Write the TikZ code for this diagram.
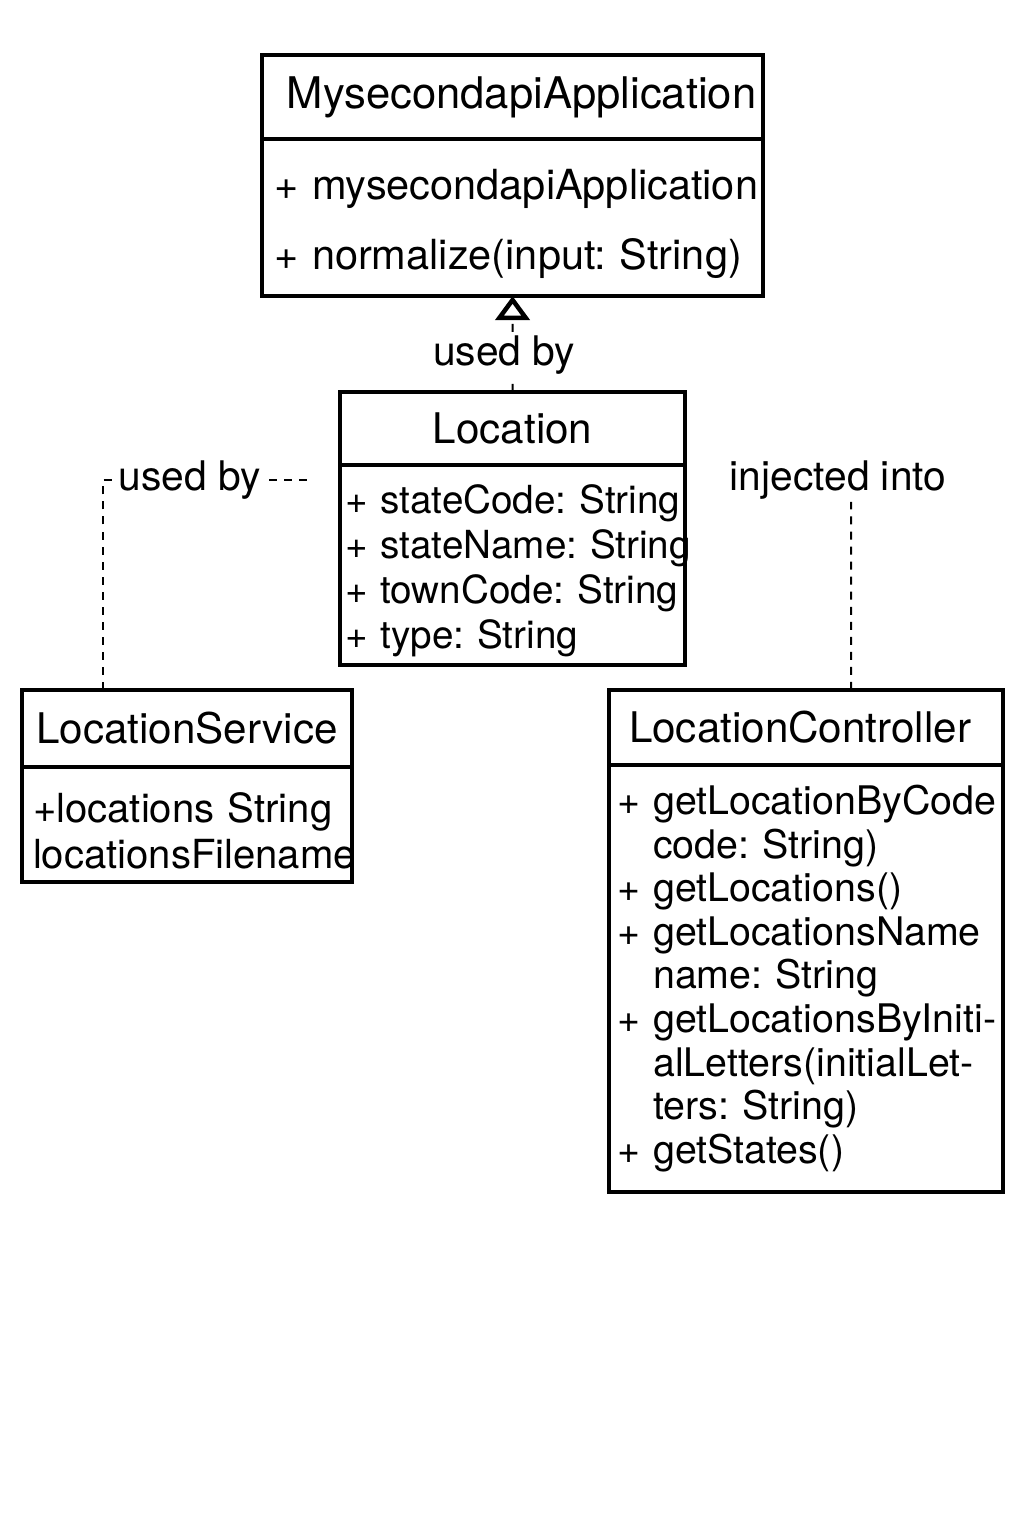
\documentclass[tikz,border=0pt]{standalone}
\usepackage{fontspec}
\setmainfont{TeX Gyre Heros}
\usetikzlibrary{arrows.meta,positioning}

\newcommand{\titlefont}{\fontsize{30}{36}\selectfont}
\newcommand{\bodyfont}{\fontsize{28}{31}\selectfont\hyphenpenalty=10000 \exhyphenpenalty=10000 }

\begin{document}
\begin{tikzpicture}[x=0.025cm, y=-0.025cm,
		classhead/.style={draw, line width=2.4pt, outer sep=0pt, inner sep=0pt, align=center, font=\titlefont, anchor=north west},
		classbody/.style={draw, line width=2.4pt, outer sep=0pt, inner ysep=0pt, align=left, font=\bodyfont, anchor=north},
		textdrop/.style={execute at begin node={\rule{0pt}{1.05em}}},
		dep/.style={line width=1.4pt, dash pattern=on 5.7pt off 5pt},
		lbl/.style={font=\bodyfont\fontsize{29}{31}\selectfont, fill=white, inner sep=2pt}]
		\useasboundingbox (0,0) rectangle (1024,1536);

		% MysecondapiApplication class
		\node[classhead, minimum width=12.525cm, minimum height=2.1cm, font=\fontsize{31}{36}\selectfont] (appname) at (262,55) {\hspace*{0.45cm}MysecondapiApplication};
		\node[classbody, textdrop, below=0pt of appname, minimum height=3.925cm, text width=11.925cm, inner xsep=0.3cm,
			font={\bodyfont\fontsize{29.5}{50}\selectfont}] (appbody) {+~mysecondapiApplication\\+~normalize(input:~String)};

		% Location class
		\node[classhead, minimum width=8.625cm, minimum height=1.825cm] (locname) at (340,392) {Location};
		\node[classbody, textdrop, below=0pt of locname, minimum height=5cm, text width=8.375cm, inner xsep=0.125cm,
			font={\bodyfont\fontsize{27.5}{32}\selectfont}] (locbody) {+~stateCode:~String\\+~stateName:~String\\+~townCode:~String\\+~type:~String};

		% LocationService class
		\node[classhead, minimum width=8.25cm, minimum height=1.925cm] (servname) at (22,690) {LocationService};
		\node[classbody, textdrop, below=0pt of servname, minimum height=2.875cm, text width=7.7cm, inner xsep=0.275cm,
			font={\bodyfont\fontsize{28.5}{33}\selectfont}] (servbody) {+locations~String\\locationsFilename};

		% LocationController class
		\node[classhead, minimum width=9.85cm, minimum height=1.875cm] (ctrlname) at (609,690) {LocationController\hspace*{0.3cm}};
		\node[classbody, below=0pt of ctrlname, minimum height=10.675cm, text width=9.45cm, inner xsep=0.2cm] (ctrlbody) {+~getLocationByCode\\
			\hphantom{+ }code:~String)\\
			+~getLocations()\\
			+~getLocationsName\\
			\hphantom{+ }name:~String\\
			+~getLocationsByIniti-\\
			\hphantom{+ }alLetters(initialLet-\\
			\hphantom{+ }ters:~String)\\
			+~getStates()};

		% Dependencies
		\draw[dep, -{Triangle[open, length=0.6cm, width=0.85cm, line width=3.2pt]}] (locname.north) -- node[lbl, pos=0.39, xshift=-0.21cm] (applbl) {used by} (appbody.south);

		\coordinate (usedend) at (310,480);
		\draw[dep] ([xshift=2.025cm]servname.north west) |- node[lbl, pos=0.71] (servlbl) {used by} (usedend);

		\node[lbl, anchor=base] (injlbl) at (838,490) {injected into};
		\draw[dep] ([xshift=1.125cm]ctrlname.north) -- ([xshift=0.325cm]injlbl.south);
	\end{tikzpicture}
\end{document}
